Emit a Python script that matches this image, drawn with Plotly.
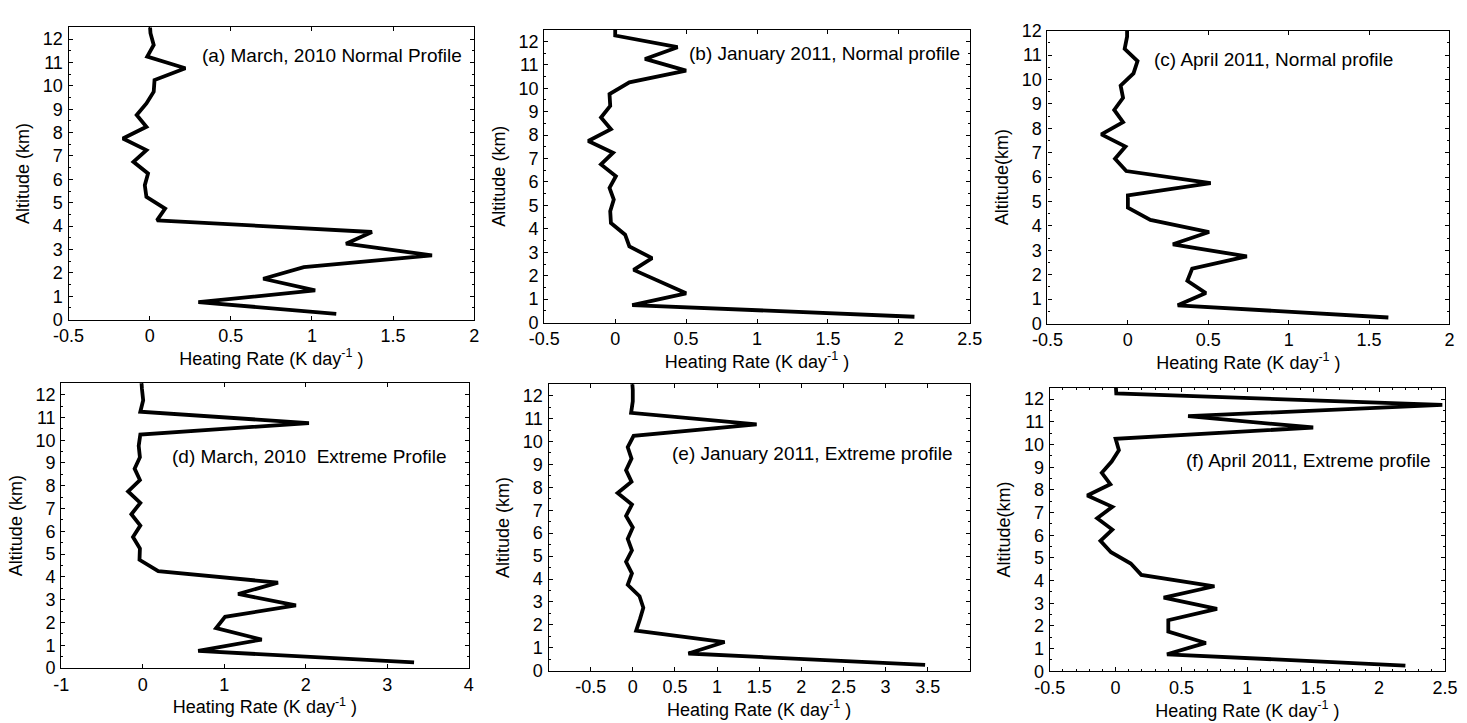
import plotly.graph_objects as go

# Altitude levels (km) shared by all six profiles
altitude = [0.25, 0.75, 1.25, 1.75, 2.25, 2.75, 3.25, 3.75, 4.25, 4.75,
            5.25, 5.75, 6.25, 6.75, 7.25, 7.75, 8.25, 8.75, 9.25, 9.75,
            10.25, 10.75, 11.25, 11.75, 12.25, 12.75]

# Heating rate (K/day) for each profile
march_2010_normal = [1.15, 0.30, 1.02, 0.70, 0.95, 1.74, 1.21, 1.37, 0.045, 0.095,
                     -0.02, -0.03, -0.01, -0.10, -0.02, -0.165, -0.02, -0.08, -0.02, 0.025,
                     0.03, 0.22, -0.015, 0.025, 0.005, 0.0]
jan_2011_normal = [2.11, 0.12, 0.50, 0.31, 0.13, 0.26, 0.10, 0.07, -0.03, -0.035,
                   -0.01, -0.04, 0.005, -0.10, -0.015, -0.19, -0.03, -0.10, -0.035, -0.04,
                   0.10, 0.50, 0.21, 0.44, 0.0, 0.0]
april_2011_normal = [1.62, 0.31, 0.485, 0.37, 0.40, 0.74, 0.28, 0.505, 0.14, 0.0,
                     0.0, 0.515, -0.01, -0.08, -0.015, -0.165, -0.03, -0.085, -0.03, -0.045,
                     0.035, 0.06, -0.02, -0.005, -0.005, -0.005]
march_2010_extreme = [3.33, 0.68, 1.46, 0.90, 1.01, 1.88, 1.17, 1.66, 0.19, -0.04,
                      -0.035, -0.12, -0.03, -0.14, -0.03, -0.18, -0.035, -0.10, -0.035, -0.05,
                      -0.03, 2.04, -0.03, 0.005, -0.01, -0.02]
jan_2011_extreme = [3.47, 0.66, 1.09, 0.04, 0.085, 0.125, 0.08, -0.06, -0.01, -0.08,
                    -0.01, -0.06, 0.0, -0.08, -0.01, -0.18, -0.015, -0.08, -0.015, -0.06,
                    0.01, 1.47, -0.02, 0.0, 0.0, -0.01]
april_2011_extreme = [2.20, 0.39, 0.685, 0.40, 0.40, 0.77, 0.365, 0.75, 0.195, 0.115,
                      -0.035, -0.115, -0.025, -0.14, -0.025, -0.215, -0.04, -0.105, -0.03, 0.025,
                      0.0, 1.50, 0.55, 2.48, 0.005, 0.0]

panel_labels = ["(a) March, 2010 Normal Profile",
                "(b) January 2011, Normal profile",
                "(c) April 2011, Normal profile",
                "(d) March, 2010  Extreme Profile",
                "(e) January 2011, Extreme profile",
                "(f) April 2011, Extreme profile"]
y_titles = ["Altitude (km)", "Altitude (km)", "Altitude(km)",
            "Altitude (km)", "Altitude (km)", "Altitude(km)"]
x_title = "Heating Rate (K day<sup>-1</sup> )"

W, H = 1467, 723
FONT = "Arial, Liberation Sans, sans-serif"
FS = 18

# On screen the canvas lands slightly inset and scaled; convert on-screen
# pixel positions into page fractions accordingly.
SX, OX = 0.989, 11.0
SY, OY = 0.990, -1.0


def fx(p):
    return (p - OX) / SX / W


def fy(p):
    return 1 - (p - OY) / SY / H


# Panel boxes in on-screen pixels: left, right, top, bottom
boxes = [(64, 473.3, 16.7, 314.3),
         (544, 973.3, 19, 317.3),
         (1051.7, 1457.3, 20, 318.3),
         (56.7, 467.7, 379, 669),
         (548.3, 973.3, 380, 671.7),
         (1054, 1452.7, 383.7, 672.3)]
x_ranges = [[-0.5, 2], [-0.5, 2.5], [-0.5, 2], [-1, 4], [-1, 4], [-0.5, 2.5]]
x_ticks = [[-0.5, 0, 0.5, 1, 1.5, 2],
           [-0.5, 0, 0.5, 1, 1.5, 2, 2.5],
           [-0.5, 0, 0.5, 1, 1.5, 2],
           [-1, 0, 1, 2, 3, 4],
           [-0.5, 0, 0.5, 1, 1.5, 2, 2.5, 3, 3.5],
           [-0.5, 0, 0.5, 1, 1.5, 2, 2.5]]
y_tops = [12.5, 12.5, 12, 12.5, 12.5, 12.5]
# Label anchor (left edge, vertical centre) in on-screen pixels
label_pos = [(197, 45), (688, 43), (1157, 49), (166, 454), (671, 451), (1189, 458)]

profiles = [march_2010_normal, jan_2011_normal, april_2011_normal,
            march_2010_extreme, jan_2011_extreme, april_2011_extreme]

fig = go.Figure()
annotations = []
for i, (prof, box) in enumerate(zip(profiles, boxes)):
    n = "" if i == 0 else str(i + 1)
    left, right, top, bottom = box
    fig.add_trace(go.Scatter(
        x=prof, y=altitude, mode="lines",
        line=dict(color="black", width=3.8),
        xaxis="x" + n, yaxis="y" + n, showlegend=False, hoverinfo="x+y"))
    axis_common = dict(
        showline=True, linecolor="black", linewidth=1.2, mirror="allticks",
        ticks="inside", ticklen=4, tickwidth=1, tickcolor="black",
        showgrid=False, zeroline=False,
        tickfont=dict(family=FONT, size=FS, color="black"))
    xa = dict(axis_common, domain=[fx(left), fx(right)], range=x_ranges[i],
              tickmode="array", tickvals=x_ticks[i],
              ticktext=[f"{v:g}" for v in x_ticks[i]],
              anchor="y" + n,
              title=dict(text=x_title, font=dict(family=FONT, size=FS, color="black"),
                         standoff=2))
    if i == 5:
        xa["minor"] = dict(dtick=0.1, ticklen=2, tickcolor="black", ticks="inside")
    ya = dict(axis_common, domain=[fy(bottom), fy(top)], range=[0, y_tops[i]],
              tickmode="linear", tick0=0, dtick=1, anchor="x" + n,
              minor=dict(dtick=0.5, ticklen=2, tickcolor="black", ticks="inside"),
              ticklabelstandoff=1,
              title=dict(text=y_titles[i], font=dict(family=FONT, size=FS, color="black"),
                         standoff=8))
    fig.layout["xaxis" + n] = xa
    fig.layout["yaxis" + n] = ya
    lx, ly = label_pos[i]
    annotations.append(dict(
        text=panel_labels[i], xref="paper", yref="paper",
        x=fx(lx), y=fy(ly), xanchor="left", yanchor="middle",
        showarrow=False, font=dict(family=FONT, size=19, color="black")))

fig.update_layout(
    width=W, height=H, margin=dict(l=0, r=0, t=0, b=0),
    paper_bgcolor="white", plot_bgcolor="white",
    annotations=annotations)

fig.write_html("out.html")
